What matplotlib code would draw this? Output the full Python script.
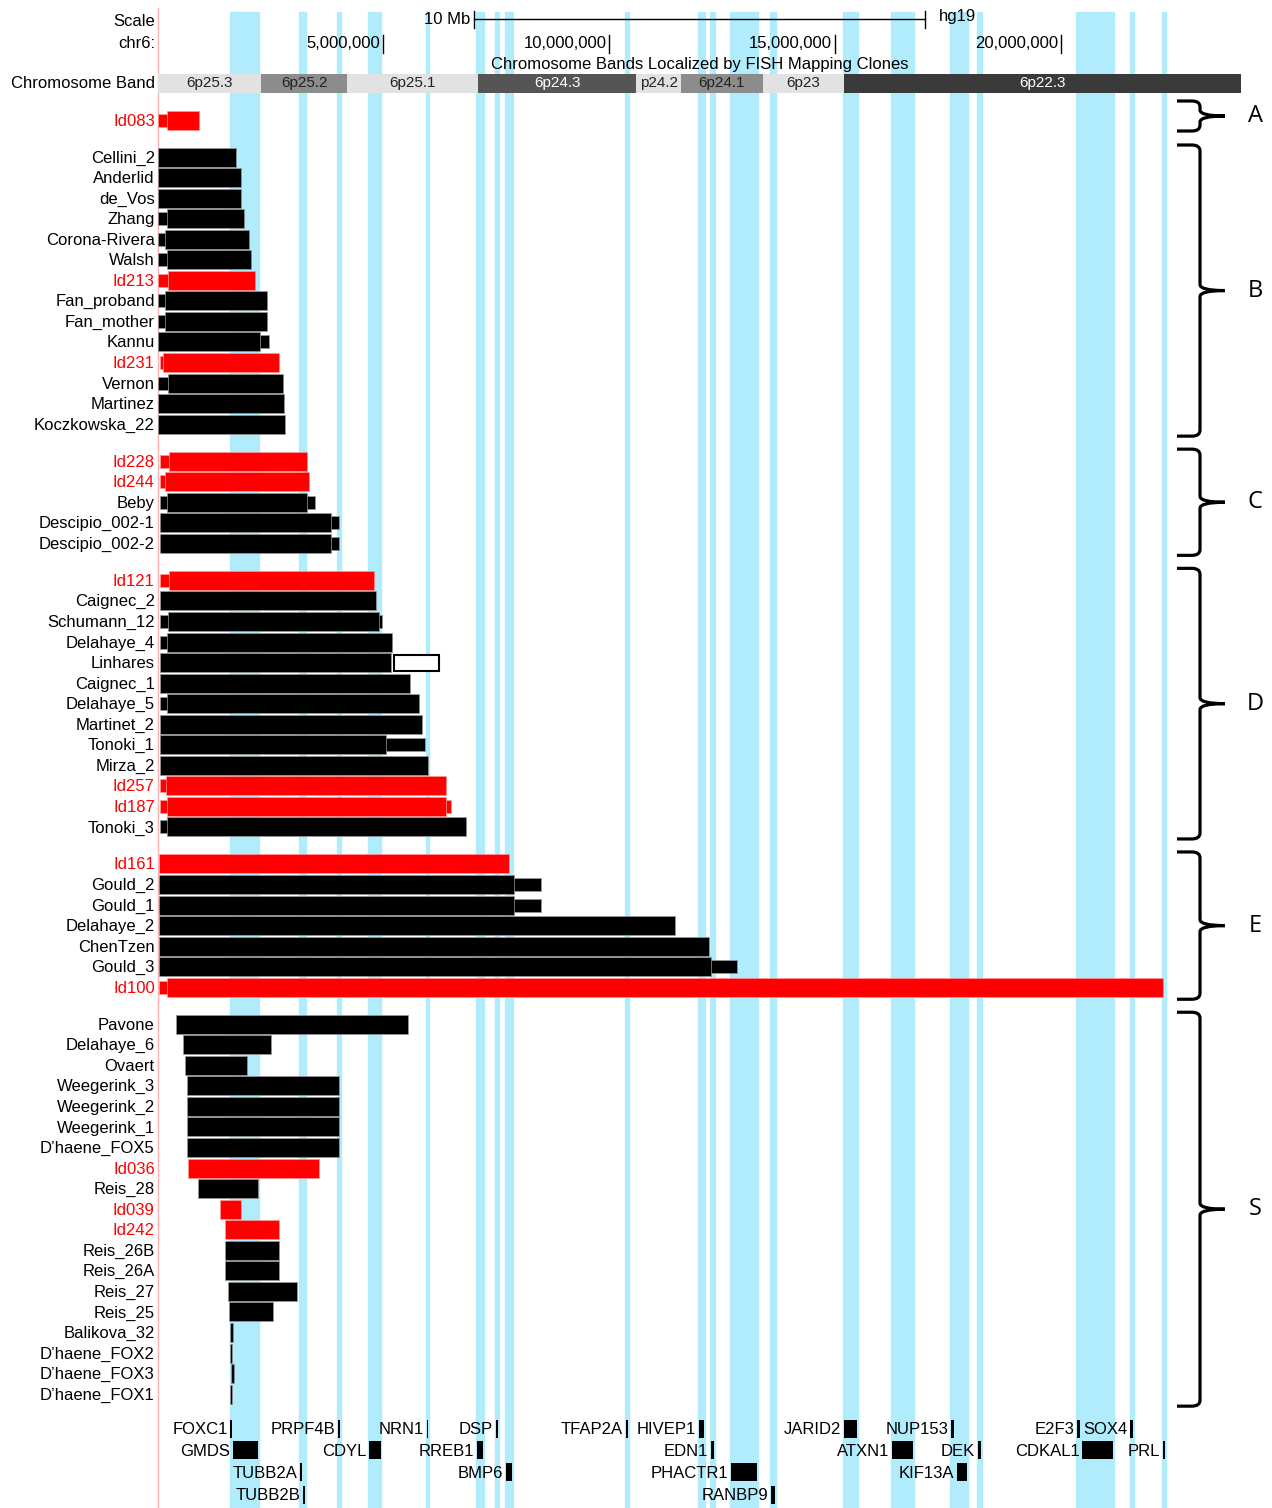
import matplotlib.pyplot as plt
from matplotlib.patches import Rectangle, PathPatch
from matplotlib.path import Path

plt.rcParams['font.family'] = ['Liberation Sans', 'DejaVu Sans']

# window on chr6 (Mb)
view_start, view_end = 0.0, 24.0

# chromosome bands, hg19 (Mb)
band_names = ['6p25.3', '6p25.2', '6p25.1', '6p24.3', 'p24.2', '6p24.1', '6p23', '6p22.3']
band_starts = [0.0, 2.3, 4.2, 7.1, 10.6, 11.6, 13.4, 15.2]
band_ends = [2.3, 4.2, 7.1, 10.6, 11.6, 13.4, 15.2, 24.0]
band_stain = ['gneg', 'gpos50', 'gneg', 'gpos75', 'gneg', 'gpos50', 'gneg', 'gpos100']

# deletion groups
group_labels = ['A', 'B', 'C', 'D', 'E', 'S']
group_sizes = [1, 14, 5, 13, 7, 19]

# one entry per patient, top to bottom (Mb)
patients = ['Id083',
            'Cellini_2', 'Anderlid', 'de_Vos', 'Zhang', 'Corona-Rivera', 'Walsh', 'Id213',
            'Fan_proband', 'Fan_mother', 'Kannu', 'Id231', 'Vernon', 'Martinez', 'Koczkowska_22',
            'Id228', 'Id244', 'Beby', 'Descipio_002-1', 'Descipio_002-2',
            'Id121', 'Caignec_2', 'Schumann_12', 'Delahaye_4', 'Linhares', 'Caignec_1', 'Delahaye_5',
            'Martinet_2', 'Tonoki_1', 'Mirza_2', 'Id257', 'Id187', 'Tonoki_3',
            'Id161', 'Gould_2', 'Gould_1', 'Delahaye_2', 'ChenTzen', 'Gould_3', 'Id100',
            'Pavone', 'Delahaye_6', 'Ovaert', 'Weegerink_3', 'Weegerink_2', 'Weegerink_1',
            'D\u2019haene_FOX5', 'Id036', 'Reis_28', 'Id039', 'Id242', 'Reis_26B', 'Reis_26A',
            'Reis_27', 'Reis_25', 'Balikova_32', 'D\u2019haene_FOX2', 'D\u2019haene_FOX3',
            'D\u2019haene_FOX1']
# minimal deleted region (thick part)
del_start = [0.20,
             0.02, 0.02, 0.02, 0.20, 0.17, 0.20, 0.23, 0.17, 0.17, 0.02, 0.13, 0.23, 0.02, 0.02,
             0.25, 0.17, 0.22, 0.05, 0.05,
             0.25, 0.05, 0.23, 0.22, 0.05, 0.05, 0.22, 0.05, 0.05, 0.05, 0.18, 0.22, 0.22,
             0.03, 0.03, 0.03, 0.03, 0.03, 0.03, 0.20,
             0.41, 0.56, 0.62, 0.65, 0.65, 0.65, 0.65, 0.68, 0.90, 1.38, 1.50, 1.50, 1.50,
             1.56, 1.59, 1.61, 1.61, 1.62, 1.61]
del_end = [0.93,
           1.73, 1.86, 1.86, 1.92, 2.03, 2.07, 2.16, 2.43, 2.43, 2.27, 2.70, 2.79, 2.80, 2.82,
           3.31, 3.36, 3.31, 3.85, 3.85,
           4.80, 4.84, 4.91, 5.19, 5.18, 5.60, 5.80, 5.85, 5.07, 5.99, 6.39, 6.39, 6.83,
           7.78, 7.89, 7.89, 11.46, 12.22, 12.27, 22.27,
           5.54, 2.52, 1.98, 4.03, 4.03, 4.03, 4.03, 3.58, 2.22, 1.86, 2.70, 2.70, 2.70,
           3.09, 2.55, 1.67, 1.64, 1.70, 1.64]
# breakpoint uncertainty (thin part)
max_start = [0.02,
             0.02, 0.02, 0.02, 0.02, 0.02, 0.02, 0.02, 0.02, 0.02, 0.02, 0.05, 0.02, 0.02, 0.02,
             0.05, 0.05, 0.05, 0.05, 0.05,
             0.05, 0.05, 0.05, 0.05, 0.05, 0.05, 0.05, 0.05, 0.05, 0.05, 0.05, 0.05, 0.05,
             0.03, 0.03, 0.03, 0.03, 0.03, 0.03, 0.03,
             0.41, 0.56, 0.62, 0.65, 0.65, 0.65, 0.65, 0.68, 0.90, 1.38, 1.50, 1.50, 1.50,
             1.56, 1.59, 1.61, 1.61, 1.62, 1.61]
max_end = [0.93,
           1.73, 1.86, 1.86, 1.92, 2.03, 2.07, 2.16, 2.43, 2.43, 2.46, 2.70, 2.79, 2.80, 2.82,
           3.31, 3.36, 3.49, 4.03, 4.03,
           4.80, 4.84, 4.98, 5.19, 5.18, 5.60, 5.80, 5.85, 5.92, 5.99, 6.39, 6.51, 6.83,
           7.78, 8.50, 8.50, 11.46, 12.22, 12.84, 22.27,
           5.54, 2.52, 1.98, 4.03, 4.03, 4.03, 4.03, 3.58, 2.22, 1.86, 2.70, 2.70, 2.70,
           3.09, 2.55, 1.67, 1.64, 1.70, 1.64]
# Linhares: region not tested
linhares_gap = (5.24, 6.23)

# genes of interest (Mb) and their label row
genes = ['FOXC1', 'GMDS', 'TUBB2A', 'TUBB2B', 'PRPF4B', 'CDYL', 'NRN1', 'RREB1', 'DSP',
         'BMP6', 'TFAP2A', 'HIVEP1', 'EDN1', 'PHACTR1', 'RANBP9', 'JARID2', 'ATXN1',
         'NUP153', 'KIF13A', 'DEK', 'E2F3', 'CDKAL1', 'SOX4', 'PRL']
gene_start = [1.615, 1.67, 3.16, 3.22, 4.00, 4.68, 5.96, 7.07, 7.49, 7.72, 10.37, 11.99,
              12.26, 12.70, 13.59, 15.20, 16.27, 17.57, 17.71, 18.17, 20.37, 20.48, 21.55, 22.26]
gene_end = [1.66, 2.22, 3.20, 3.27, 4.05, 4.94, 6.00, 7.21, 7.55, 7.85, 10.42, 12.10,
            12.32, 13.28, 13.67, 15.49, 16.73, 17.64, 17.93, 18.24, 20.43, 21.17, 21.60, 22.31]
gene_row = [0, 1, 2, 3, 0, 1, 0, 1, 0, 2, 0, 0, 1, 2, 3, 0, 1, 0, 2, 1, 0, 1, 0, 1]

positions = [5, 10, 15, 20]

stain_color = {'gneg': '#e2e2e2', 'gpos50': '#8c8c8c', 'gpos75': '#555555', 'gpos100': '#3a3a3a'}
blue = '#b0ecfb'
red = '#ff0000'

fig = plt.figure(figsize=(12.72, 15.08), dpi=100)
px_per_mb = 45.15
ax = fig.add_axes([157.5 / 1272, 0, (view_end - view_start) * px_per_mb / 1272, 1])
ax.set_xlim(view_start, view_end)
ax.set_ylim(1508, 0)
ax.axis('off')

# highlight columns for genes
for s, e in zip(gene_start, gene_end):
    ax.broken_barh([(s - 0.02, e - s + 0.04)], (12, 1496), color=blue, zorder=0)
ax.plot([0, 0], [8, 1508], color='#ffb0b0', lw=1, zorder=1, clip_on=False)

# header
lab_x = -0.06
ax.text(lab_x, 22, 'Scale', ha='right', va='center', fontsize=12)
ax.text(lab_x, 44, 'chr6:', ha='right', va='center', fontsize=12)
ax.text(lab_x, 83, 'Chromosome Band', ha='right', va='center', fontsize=12, clip_on=False)
ax.plot([7, 17], [19, 19], color='black', lw=1)
for xb in (7, 17):
    ax.plot([xb, xb], [11, 28], color='black', lw=1)
ax.text(7 - 0.07, 20, '10 Mb', ha='right', va='center', fontsize=12)
ax.text(17.3, 16, 'hg19', ha='left', va='center', fontsize=12)
for p in positions:
    ax.plot([p, p], [35, 53], color='black', lw=1)
    ax.text(p - 0.06, 44, f'{p * 1000000:,}', ha='right', va='center', fontsize=12)
ax.text(12.0, 64, 'Chromosome Bands Localized by FISH Mapping Clones', ha='center',
        va='center', fontsize=12)
for name, s, e, st in zip(band_names, band_starts, band_ends, band_stain):
    ax.add_patch(Rectangle((s, 74), e - s, 19, facecolor=stain_color[st], edgecolor='none', zorder=2))
    tc = 'white' if st in ('gpos75', 'gpos100') else '#222222'
    ax.text((s + e) / 2, 83.5, name, ha='center', va='center', fontsize=11, color=tc, zorder=3)

# row positions
ROW = 20.55
GAP = 37.0
row_y = []
group_span = []
y = 120.0
for gi, n in enumerate(group_sizes):
    if gi > 0:
        y += GAP
    first = y
    for j in range(n):
        row_y.append(y)
        if j < n - 1:
            y += ROW
    group_span.append((first, y))

for name, yc, ms, me, ds, de in zip(patients, row_y, max_start, max_end, del_start, del_end):
    col = red if name.startswith('Id') else 'black'
    ec = '#ff9a9a' if col == red else '#9a9a9a'
    if ms < ds or me > de:
        ax.add_patch(Rectangle((ms, yc - 6.5), me - ms, 13, facecolor=col, edgecolor=ec,
                               lw=0.5, zorder=2))
    ax.add_patch(Rectangle((ds, yc - 9.5), de - ds, 19, facecolor=col, edgecolor=ec,
                           lw=0.5, zorder=3))
    ax.text(lab_x, yc + 1, name, ha='right', va='center', fontsize=12, color=col, clip_on=False)
    if name == 'Linhares':
        ax.add_patch(Rectangle((linhares_gap[0], yc - 8), linhares_gap[1] - linhares_gap[0], 16,
                               facecolor='white', edgecolor='black', lw=1.5, zorder=3))

# gene track
gene_row_y = [1429, 1450, 1472, 1495]
for g, s, e, r in zip(genes, gene_start, gene_end, gene_row):
    yc = gene_row_y[r]
    ax.add_patch(Rectangle((s, yc - 9), e - s, 18, facecolor='black', edgecolor='none', zorder=3))
    ax.text(s - 0.06, yc + 1, g, ha='right', va='center', fontsize=12, zorder=4)


# curly braces on the right
def brace(y0, y1, x0=22.58, x1=23.09, x2=23.64):
    ym = (y0 + y1) / 2
    c = 0.18
    verts = [(x0, y0), (x1 - c, y0), (x1, y0), (x1, y0 + 6),
             (x1, ym - 6), (x1, ym), (x2, ym),
             (x1, ym), (x1, ym + 6),
             (x1, y1 - 6), (x1, y1), (x1 - c, y1), (x0, y1)]
    codes = [Path.MOVETO, Path.LINETO, Path.CURVE3, Path.CURVE3,
             Path.LINETO, Path.CURVE3, Path.CURVE3,
             Path.CURVE3, Path.CURVE3,
             Path.LINETO, Path.CURVE3, Path.CURVE3, Path.LINETO]
    ax.add_patch(PathPatch(Path(verts, codes), facecolor='none', edgecolor='black', lw=2.3,
                           zorder=4, clip_on=False))
    return ym


for lab, (top, bot) in zip(group_labels, group_span):
    y0, y1 = top - 12, bot + 12
    if y1 - y0 < 30:
        mid = (y0 + y1) / 2 - 4
        y0, y1 = mid - 15, mid + 15
    ym = brace(y0, y1)
    ax.text(24.31, ym, lab, ha='center', va='center', fontsize=17, family='Open Sans',
            clip_on=False)

fig.savefig('out.png', dpi=100)
